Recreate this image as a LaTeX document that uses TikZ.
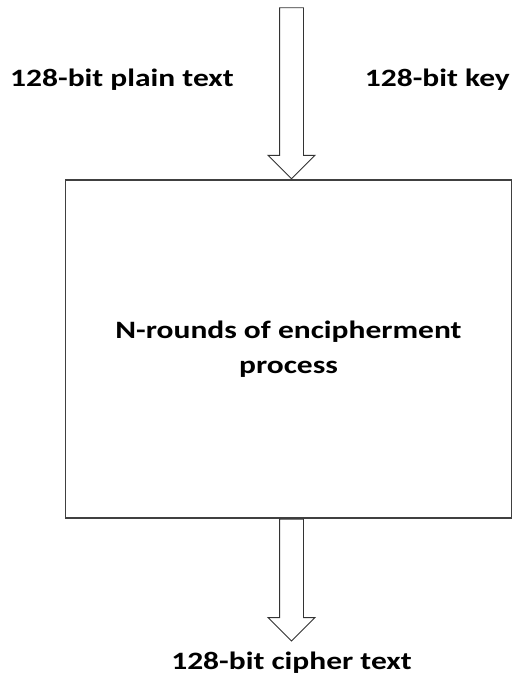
\documentclass[tikz,border=0pt]{standalone}
\usepackage{fontspec}
\setmainfont{Carlito}[FakeStretch=1.26]
\usetikzlibrary{shapes.arrows, positioning}

\begin{document}
\begin{tikzpicture}[x=1pt, y=-1pt,
    procbox/.style={rectangle, draw=black!75, line width=1.2pt, minimum width=446pt, minimum height=338pt, align=center, font=\fontsize{25}{35}\selectfont\bfseries},
    lbl/.style={inner sep=0pt, font=\fontsize{25}{30}\selectfont\bfseries},
    blockarrow/.style={single arrow, draw=black!80, line width=0.9pt, fill=white, shape border rotate=270, minimum width=46pt, single arrow head extend=11.5pt, single arrow tip angle=90, inner sep=11.5pt}
]
    \useasboundingbox (0,0) rectangle (513,677);

    % Main process block
    \node (encbox) [procbox] at (288.5,349) {N-rounds of encipherment\\process};

    % Block arrows in and out
    \node (inarrow) [blockarrow, minimum height=171pt, anchor=tip, xshift=3pt] at (encbox.north) {};
    \node (outarrow) [blockarrow, minimum height=122pt, anchor=tail, xshift=3pt] at (encbox.south) {};

    % Labels
    \node (plaintext) [lbl, anchor=base west] at (10,86) {128-bit plain text};
    \node (keytext) [lbl, anchor=base east] at (510,86) {128-bit key};
    \node (ciphertext) [lbl, below=10pt of outarrow.tip] {128-bit cipher text};
\end{tikzpicture}
\end{document}
